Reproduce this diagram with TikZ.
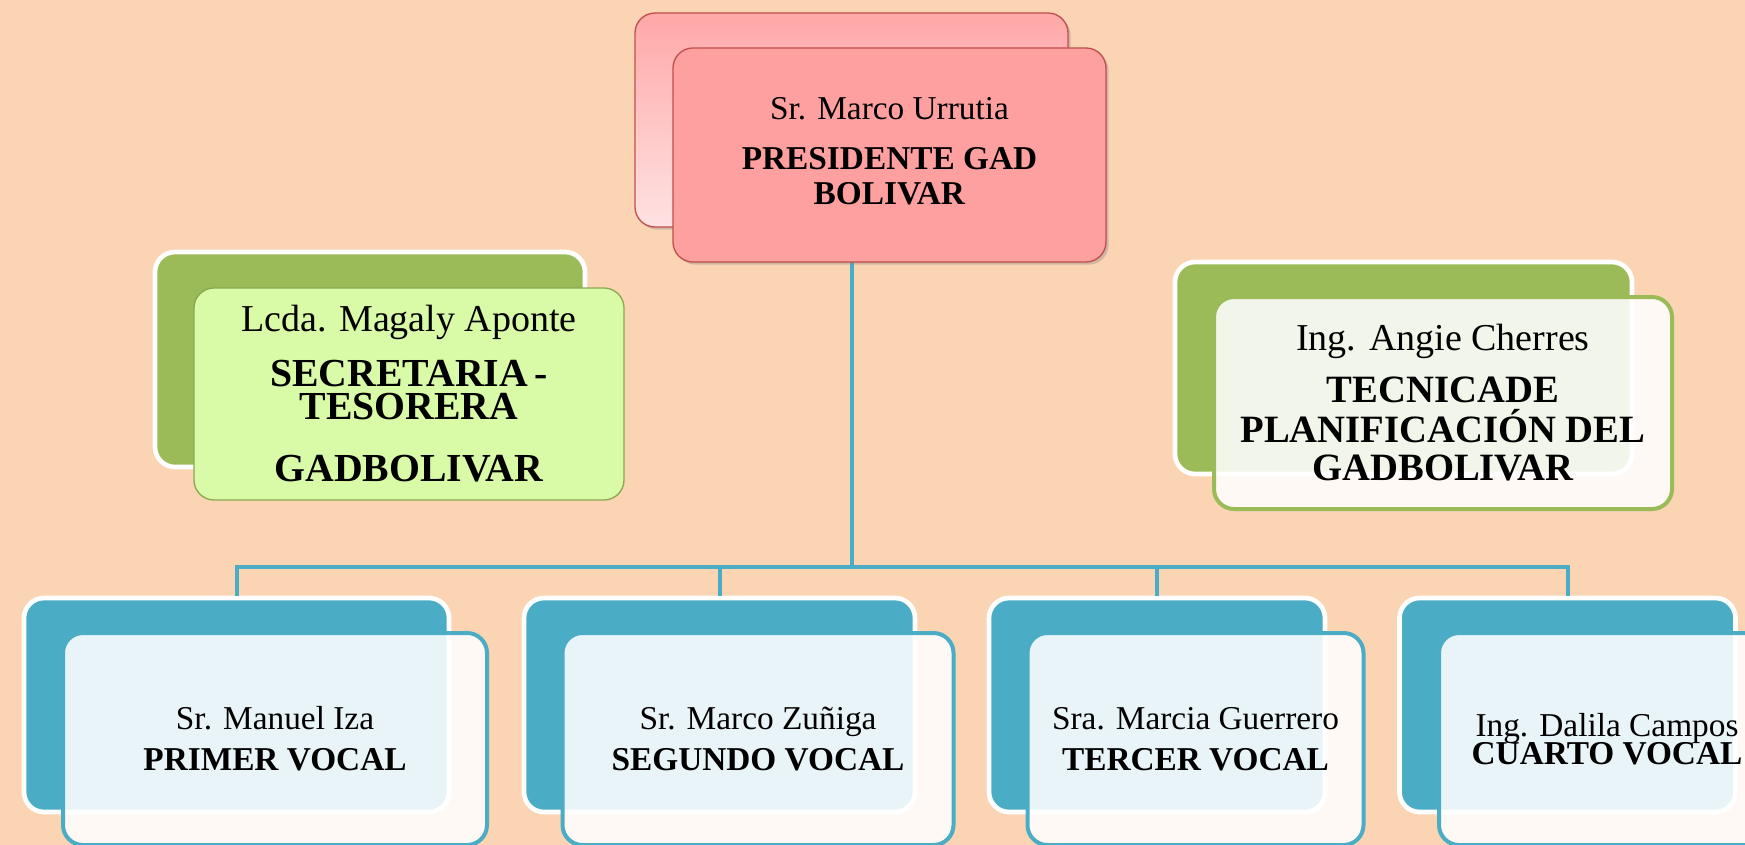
\documentclass[tikz,border=0pt]{standalone}
\usepackage{fontspec}
\setmainfont{Liberation Serif}
\usetikzlibrary{shadows}

\definecolor{fondo}{RGB}{251,212,180}
\definecolor{celeste}{RGB}{75,172,198}
\definecolor{verde}{RGB}{155,187,89}
\definecolor{lima}{RGB}{217,250,166}
\definecolor{rojo}{RGB}{192,80,77}
\definecolor{rosa}{RGB}{255,160,160}

\begin{document}
\begin{tikzpicture}[x=0.75pt,y=0.75pt,yscale=-1,xscale=1,
  caja/.style={rounded corners=15pt,outer sep=0pt,inner sep=0pt,align=center},
  cajarosa/.style={caja,fill=rosa,draw=rojo,line width=1pt,minimum width=324.75pt,minimum height=160.5pt,
    drop shadow={shadow xshift=2pt,shadow yshift=-2pt,opacity=0.35}},
  fondoazul/.style={caja,fill=celeste,draw=white,line width=3.5pt,minimum height=160.5pt},
  frenteazul/.style={caja,fill=white,fill opacity=0.88,text opacity=1,draw=celeste,line width=3pt,minimum height=159pt,
    font=\fontsize{25}{30.75}\selectfont},
  fondoverde/.style={caja,fill=verde,draw=white,line width=3.5pt},
  link/.style={draw=celeste,line width=3pt,shorten >=1.75pt}]
%uncomment if require: \path (0,845); %set diagram left start at 0, and has height of 845
\clip (0,0) rectangle (1745,845);
\fill[fondo] (0,0) rectangle (1745,845);

%Rounded Rect (presidente, fondo)
\node[cajarosa,top color={rgb,255:red,255;green,168;blue,168},bottom color={rgb,255:red,255;green,226;blue,226}] (presB) at (851.5,120) {};
%Rounded Rect (vocales, fondo)
\node[fondoazul,minimum width=318.75pt] (v1B) at (236.5,705) {};
\node[fondoazul,minimum width=293.25pt] (v2B) at (719.5,705) {};
\node[fondoazul,minimum width=252pt] (v3B) at (1157,705) {};
\node[fondoazul,minimum width=252pt] (v4B) at (1567.5,705) {};

% Connectors
\coordinate (bus) at (851,567);
\draw[link] (presB.south) -- (presB.south |- bus) -| (v1B.north);
\draw[link] (presB.south) -- (presB.south |- bus) -| (v2B.north);
\draw[link] (presB.south) -- (presB.south |- bus) -| (v3B.north);
\draw[link] (presB.south) -- (presB.south |- bus) -| (v4B.north);

% Text Node
\node[cajarosa,font=\fontsize{25}{26.5}\selectfont,text depth=6pt] (pres) at (889.5,155)
  {Sr. Marco Urrutia\\[11pt]\textbf{PRESIDENTE GAD}\\\textbf{BOLIVAR}};

%Rounded Rect (secretaria)
\node[fondoverde,minimum width=322.5pt,minimum height=161.25pt] (secB) at (370,359.5) {};
% Text Node
\node[caja,fill=lima,draw=verde!90!black,line width=1pt,minimum width=322.5pt,minimum height=159pt,
  font=\fontsize{28.5}{24.75}\selectfont] (sec) at (409,394)
  {Lcda. Magaly Aponte\\[14.25pt]{\fontsize{29.8}{24.75}\selectfont\bfseries SECRETARIA\thinspace-}\\
   {\fontsize{29.8}{24.75}\selectfont\bfseries TESORERA}\\[21.75pt]{\fontsize{29.8}{24.75}\selectfont\bfseries GADBOLIVAR}};

%Rounded Rect (tecnica)
\node[fondoverde,minimum width=342.75pt,minimum height=159pt] (tecB) at (1403.5,368) {};
% Text Node
\node[caja,fill=white,fill opacity=0.88,text opacity=1,draw=verde,line width=3pt,minimum width=343.5pt,minimum height=159pt,
  font=\fontsize{28.5}{28.5}\selectfont] (tec) at (1443,403)
  {Ing. Angie Cherres\\[10.5pt]{\fontsize{29}{28.5}\selectfont\bfseries TECNICADE}\\[1.5pt]
   {\fontsize{29}{28.5}\selectfont\bfseries PLANIFICACIÓN DEL}\\{\fontsize{29}{28.5}\selectfont\bfseries GADBOLIVAR}};

% Text Node
\node[frenteazul,minimum width=318pt] (v1) at (275,739) {Sr. Manuel Iza\\\textbf{PRIMER VOCAL}};
% Text Node
\node[frenteazul,minimum width=293.25pt] (v2) at (758,739) {Sr. Marco Zuñiga\\\textbf{SEGUNDO VOCAL}};
% Text Node
\node[frenteazul,minimum width=252pt] (v3) at (1195.5,739) {Sra. Marcia Guerrero\\\textbf{TERCER VOCAL}};
% Text Node
\node[frenteazul,minimum width=252pt,font={\fontsize{25}{21}\selectfont\lineskiplimit-20pt\relax}] (v4) at (1607,739)
  {Ing. Dalila Campos\\\textbf{CUARTO VOCAL}};

\end{tikzpicture}
\end{document}
